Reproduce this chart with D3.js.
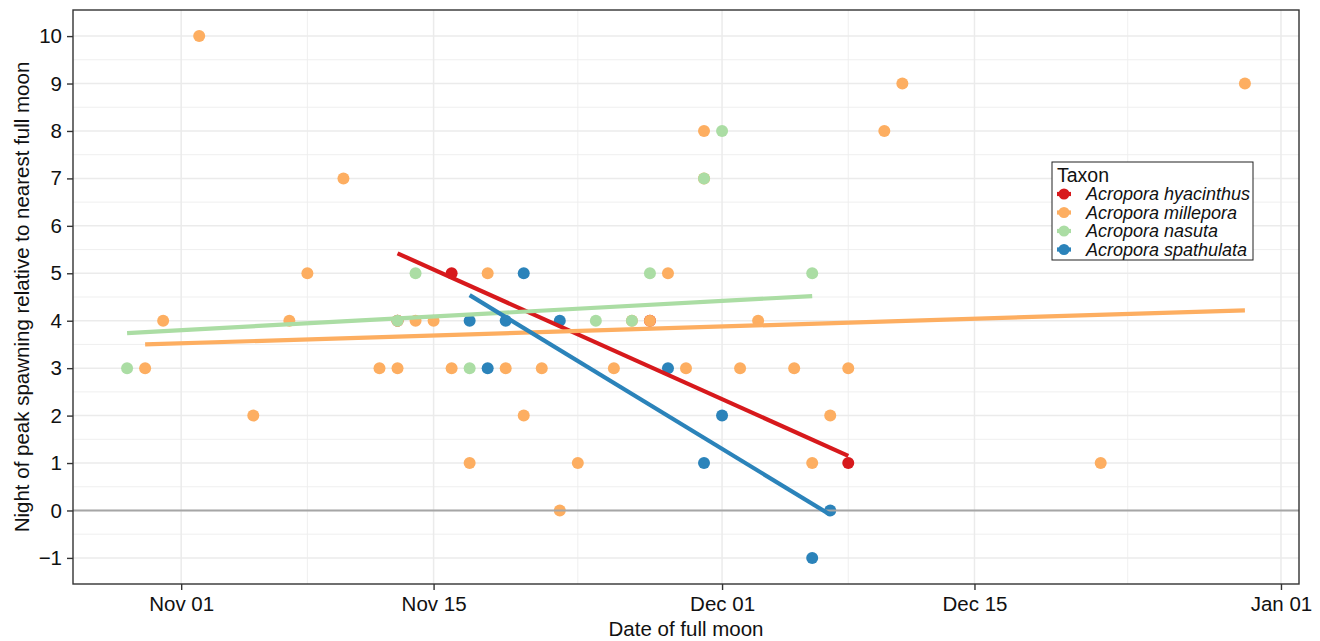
<!DOCTYPE html>
<html>
<head>
<meta charset="utf-8">
<script src="https://cdn.jsdelivr.net/npm/d3@7"></script>
<style>
  body { margin: 0; background: #fff; }
  svg { display: block; font-family: "Liberation Sans", Arial, sans-serif; }
  .grid-major { stroke: #ebebeb; stroke-width: 1.5; }
  .grid-minor { stroke: #ededed; stroke-width: 0.9; }
  .tick-label { font-size: 20.5px; fill: #111; }
  .axis-title { font-size: 20.5px; fill: #111; }
  .legend-title { font-size: 19.5px; fill: #111; }
  .legend-text { font-size: 18px; font-style: italic; fill: #111; }
</style>
</head>
<body>
<svg id="chart" width="1320" height="641"></svg>
<script>
const parse = d3.timeParse("%Y-%m-%d");

// taxa and colours
const taxa = ["Acropora hyacinthus", "Acropora millepora", "Acropora nasuta", "Acropora spathulata"];
const taxonColors = ["#D7191C", "#FDAE61", "#ABDDA4", "#2B83BA"];

// observations per taxon: date of full moon, night of peak spawning
const hyacinthusDates = ["2019-11-13", "2019-11-16", "2019-11-27", "2019-12-08"];
const hyacinthusNights = [4, 5, 4, 1];

const milleporaDates = [
  "2019-10-30", "2019-10-31", "2019-11-02", "2019-11-05", "2019-11-07", "2019-11-08",
  "2019-11-10", "2019-11-12", "2019-11-13", "2019-11-13", "2019-11-14", "2019-11-15",
  "2019-11-16", "2019-11-17", "2019-11-18", "2019-11-19", "2019-11-20", "2019-11-21",
  "2019-11-22", "2019-11-23", "2019-11-25", "2019-11-26", "2019-11-27", "2019-11-28",
  "2019-11-29", "2019-11-30", "2019-11-30", "2019-12-02", "2019-12-03", "2019-12-05",
  "2019-12-06", "2019-12-07", "2019-12-08", "2019-12-10", "2019-12-11", "2019-12-22",
  "2019-12-30"
];
const milleporaNights = [
  3, 4, 10, 2, 4, 5,
  7, 3, 3, 4, 4, 4,
  3, 1, 5, 3, 2, 3,
  0, 1, 3, 4, 4, 5,
  3, 7, 8, 3, 4, 3,
  1, 2, 3, 8, 9, 1,
  9
];

const nasutaDates = [
  "2019-10-29", "2019-11-13", "2019-11-14", "2019-11-17", "2019-11-24",
  "2019-11-26", "2019-11-27", "2019-11-30", "2019-12-01", "2019-12-06"
];
const nasutaNights = [3, 4, 5, 3, 4, 4, 5, 7, 8, 5];

const spathulataDates = [
  "2019-11-17", "2019-11-18", "2019-11-19", "2019-11-20", "2019-11-22",
  "2019-11-28", "2019-11-30", "2019-12-01", "2019-12-06", "2019-12-07"
];
const spathulataNights = [4, 3, 4, 5, 4, 3, 1, 2, -1, 0];

// fitted linear trends: [start date, end date], [start value, end value]
const fitDates = [
  ["2019-11-13", "2019-12-08"],
  ["2019-10-30", "2019-12-30"],
  ["2019-10-29", "2019-12-06"],
  ["2019-11-17", "2019-12-07"]
];
const fitValues = [
  [5.42, 1.15],
  [3.50, 4.22],
  [3.74, 4.52],
  [4.54, -0.09]
];

// axis breaks
const xBreaks = ["2019-11-01", "2019-11-15", "2019-12-01", "2019-12-15", "2020-01-01"];
const xMinorBreaks = ["2019-11-08", "2019-11-23", "2019-12-08", "2019-12-23T12"];
const yBreaks = [-1, 0, 1, 2, 3, 4, 5, 6, 7, 8, 9, 10];

const seriesDates = [hyacinthusDates, milleporaDates, nasutaDates, spathulataDates];
const seriesNights = [hyacinthusNights, milleporaNights, nasutaNights, spathulataNights];

const parseAny = (s) => (s.includes("T") ? d3.timeParse("%Y-%m-%dT%H")(s) : parse(s));

const points = [];
taxa.forEach((taxon, i) => {
  seriesDates[i].forEach((d, j) => {
    points.push({ taxon, color: taxonColors[i], date: parse(d), night: seriesNights[i][j] });
  });
});

const panel = { left: 73, top: 10, right: 1299, bottom: 584 };

const x = d3.scaleTime()
  .domain([parse("2019-10-26"), parse("2020-01-02")])
  .range([panel.left, panel.right]);
const y = d3.scaleLinear()
  .domain([-1.55, 10.55])
  .range([panel.bottom, panel.top]);

const svg = d3.select("#chart");

// grid
const grid = svg.append("g");
d3.range(-0.5, 10, 1).forEach((v) => {
  grid.append("line").attr("class", "grid-minor")
    .attr("x1", panel.left).attr("x2", panel.right)
    .attr("y1", y(v)).attr("y2", y(v));
});
xMinorBreaks.forEach((s) => {
  const px = x(parseAny(s));
  grid.append("line").attr("class", "grid-minor")
    .attr("x1", px).attr("x2", px)
    .attr("y1", panel.top).attr("y2", panel.bottom);
});
yBreaks.forEach((v) => {
  grid.append("line").attr("class", "grid-major")
    .attr("x1", panel.left).attr("x2", panel.right)
    .attr("y1", y(v)).attr("y2", y(v));
});
xBreaks.forEach((s) => {
  const px = x(parse(s));
  grid.append("line").attr("class", "grid-major")
    .attr("x1", px).attr("x2", px)
    .attr("y1", panel.top).attr("y2", panel.bottom);
});

// points
svg.append("g")
  .selectAll("circle")
  .data(points)
  .enter()
  .append("circle")
  .attr("cx", (d) => x(d.date))
  .attr("cy", (d) => y(d.night))
  .attr("r", 6)
  .attr("fill", (d) => d.color);

// reference line at zero
svg.append("line")
  .attr("x1", panel.left).attr("x2", panel.right)
  .attr("y1", y(0)).attr("y2", y(0))
  .attr("stroke", "#a6a6a6").attr("stroke-width", 2);

// fitted trends
const trend = d3.line().x((d) => x(d[0])).y((d) => y(d[1]));
svg.append("g")
  .selectAll("path")
  .data(taxa.map((t, i) => ({
    color: taxonColors[i],
    pts: [[parse(fitDates[i][0]), fitValues[i][0]], [parse(fitDates[i][1]), fitValues[i][1]]]
  })))
  .enter()
  .append("path")
  .attr("d", (d) => trend(d.pts))
  .attr("fill", "none")
  .attr("stroke", (d) => d.color)
  .attr("stroke-width", 4.2);

// panel border
svg.append("rect")
  .attr("x", panel.left).attr("y", panel.top)
  .attr("width", panel.right - panel.left).attr("height", panel.bottom - panel.top)
  .attr("fill", "none").attr("stroke", "#333").attr("stroke-width", 1.4);

// axes
const xAxis = svg.append("g")
  .attr("transform", `translate(0,${panel.bottom})`)
  .call(d3.axisBottom(x).tickValues(xBreaks.map(parse)).tickFormat(d3.timeFormat("%b %d")).tickSize(6).tickPadding(6));
const yAxis = svg.append("g")
  .attr("transform", `translate(${panel.left},0)`)
  .call(d3.axisLeft(y).tickValues(yBreaks).tickSize(6).tickPadding(5));

[xAxis, yAxis].forEach((ax) => {
  ax.select(".domain").remove();
  ax.selectAll(".tick line").attr("stroke", "#333").attr("stroke-width", 1.4);
  ax.selectAll(".tick text").attr("class", "tick-label").attr("font-size", null).attr("font-family", null);
  ax.attr("font-size", null).attr("font-family", null);
});

svg.append("text")
  .attr("class", "axis-title")
  .attr("x", (panel.left + panel.right) / 2)
  .attr("y", 636)
  .attr("text-anchor", "middle")
  .text("Date of full moon");

svg.append("text")
  .attr("class", "axis-title")
  .attr("transform", `translate(29,${(panel.top + panel.bottom) / 2}) rotate(-90)`)
  .attr("text-anchor", "middle")
  .text("Night of peak spawning relative to nearest full moon");

// legend
const legend = svg.append("g").attr("transform", "translate(1052,162)");
legend.append("rect")
  .attr("width", 201).attr("height", 98)
  .attr("fill", "#fff").attr("stroke", "#222").attr("stroke-width", 1);
legend.append("text")
  .attr("class", "legend-title")
  .attr("x", 5).attr("y", 20)
  .text("Taxon");

const items = legend.selectAll("g.item")
  .data(taxa)
  .enter()
  .append("g")
  .attr("class", "item")
  .attr("transform", (d, i) => `translate(0,${32 + i * 18.5})`);
items.append("line")
  .attr("x1", 5).attr("x2", 19)
  .attr("stroke", (d, i) => taxonColors[i]).attr("stroke-width", 4.2);
items.append("circle")
  .attr("cx", 12).attr("r", 5.5)
  .attr("fill", (d, i) => taxonColors[i]);
items.append("text")
  .attr("class", "legend-text")
  .attr("x", 34).attr("y", 6)
  .text((d) => d);
</script>
</body>
</html>
